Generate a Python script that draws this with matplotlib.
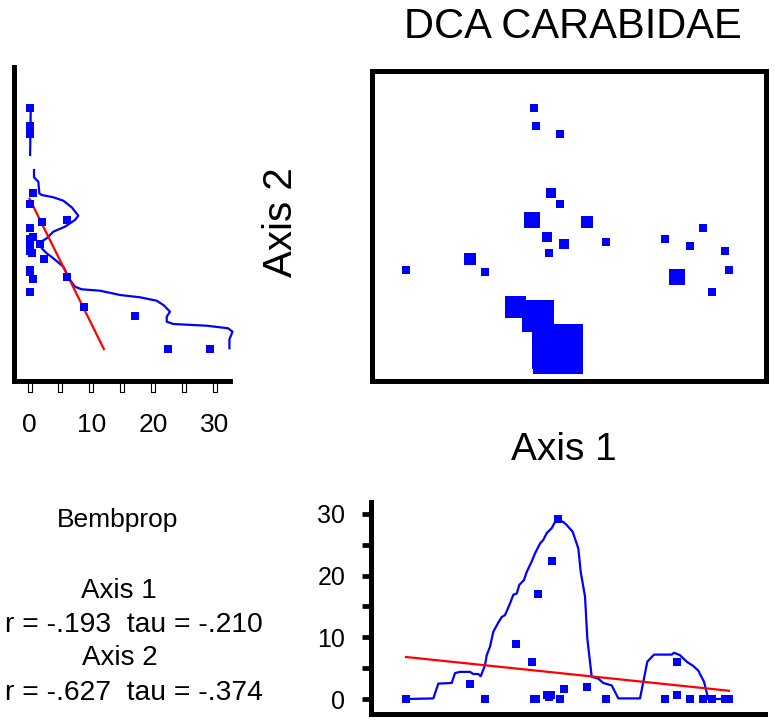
import numpy as np
import matplotlib
matplotlib.use('Agg')
import matplotlib.pyplot as plt
from matplotlib.ticker import FixedLocator

plt.rcParams['font.family'] = ['Liberation Sans', 'DejaVu Sans']

# sample scores on the two DCA axes and the Bembprop value for each sample
axis1 = np.array([35, 99, 114, 145, 161, 163, 165, 167, 176, 178, 180, 181, 187,
                  189, 189, 193, 216, 235, 294, 306, 306, 319, 332, 341, 354, 358])
axis2 = np.array([111, 122, 109, 74, 161, 273, 255, 65, 144, 128, 188, 32, 32,
                  247, 177, 137, 159, 139, 142, 104, 102, 135, 153, 89, 130, 111])
bemb = np.array([0, 2.4, 0, 8.9, 6.0, 0, 0, 17.1, 0.6, 0.4, 0.6, 22.4, 29.2,
                 0, 0, 1.7, 2.0, 0, 0, 6.0, 0.6, 0, 0, 0, 0, 0])

# smoothed trace of Bembprop along axis 1 (bottom panel)
smooth1_x = [35.7, 62.3, 67.3, 80.7, 84, 89, 99, 102.3, 107.3, 109.7, 114, 115.7, 119,
             122.3, 127.3, 130.7, 134, 139, 142.3, 145.7, 148.3, 153, 155.7, 160.7, 164,
             169, 172.3, 175.7, 180.7, 184, 187.3, 192.3, 195.7, 201.7, 207.3, 209.7,
             214, 216.3, 220.7, 227.3, 232.3, 240.7, 247.3, 269, 276.3, 283, 300.7, 303,
             309, 315.7, 322.3, 327.3, 333, 336.7, 336.7, 360.7]
smooth1_y = [0, 0.1, 2.5, 2.6, 4.2, 4.4, 4.4, 4.05, 4.05, 3.7, 5.5, 7.1, 8.5, 10.9,
             12.4, 13.3, 13.6, 15.5, 16.9, 17.1, 18.5, 19.3, 20.6, 22.3, 23.6, 25.2,
             25.8, 26.9, 27.7, 28.7, 29.0, 28.7, 28.2, 27.1, 24.4, 20.6, 16.6, 9.8,
             3.6, 3.3, 2.6, 2.2, 0.1, 0.1, 6.05, 7.2, 7.2, 7.5, 7.1, 6.05, 5.35, 4.6,
             2.8, 0.4, 0, 0]

# smoothed trace of Bembprop along axis 2 (left panel), two pieces
smooth2a_x = [0.2, 0.1]
smooth2a_y = [272.7, 226]
smooth2b_x = [0.73, 0.73, 1.43, 1.59, 1.98, 3.86, 5.48, 6.84, 7.91, 7.37, 5.75, 3.86,
              2.79, 1.9, 1.98, 2.79, 3.86, 5.48, 6.56, 7.37, 8.45, 11.43, 14.67, 17.9,
              20.6, 21.7, 22.77, 22.24, 22.24, 23.3, 28.7, 32.2, 32.9, 32.4, 32.4]
smooth2b_y = [211, 203.7, 199.3, 187.7, 186, 183.7, 180.3, 173.7, 165.3, 161, 154.3,
              149.3, 142.7, 139.3, 132.7, 127.7, 122.7, 114.3, 101, 94.3, 91.7, 90.3,
              86, 83.7, 80.3, 76, 69.3, 64.3, 59.3, 57, 55.3, 52.7, 49.3, 41.7, 32.7]

left_ticks = [0, 5, 10, 15, 20, 25, 30]
left_labels = [0, 10, 20, 30]
bottom_major = [0, 10, 20, 30]
bottom_minor = [5, 15, 25]

stats_text = [('Bembprop', 19, 0.1516, 0.2685, 'center'),
              ('Axis 1', 20, 0.1535, 0.169, 'center'),
              ('r = -.193  tau = -.210', 20.3, 0.3394, 0.1226, 'right'),
              ('Axis 2', 20, 0.1548, 0.0764, 'center'),
              ('r = -.627  tau = -.374', 20.3, 0.3394, 0.0278, 'right')]

blue = '#0000ff'
fig = plt.figure(figsize=(7.75, 7.2), dpi=100)

# main ordination panel
ax = fig.add_axes([0.4806, 0.4711, 0.5075, 0.4306])
side_px = 8.3 + 1.43 * bemb
order = np.argsort(-bemb)
ax.scatter(axis1[order], axis2[order], s=(side_px[order] * 0.72) ** 2,
           marker='s', color=blue, linewidths=0)
ax.set_xlim(1.5, 394.8)
ax.set_ylim(0.2, 310.2)
ax.set_xticks([])
ax.set_yticks([])
for sp in ax.spines.values():
    sp.set_linewidth(3.6)

# left panel: Bembprop vs axis 2
axl = fig.add_axes([0.01832, 0.4711, 0.2785, 0.4363])
axl.plot(smooth2a_x, smooth2a_y, color=blue, lw=1.6, clip_on=False)
axl.plot(smooth2b_x, smooth2b_y, color=blue, lw=1.6, clip_on=False)
b2, a2 = np.polyfit(axis2, bemb, 1)
y_end = min(axis2.max(), -a2 / b2)
yy = np.array([axis2.min(), y_end])
axl.plot(a2 + b2 * yy, yy, color='red', lw=1.6)
axl.plot(bemb, axis2, 's', color=blue, ms=6, mew=0, clip_on=False)
axl.set_xlim(-2.48, 32.5)
axl.set_ylim(0.2, 314.3)
axl.spines[['top', 'right']].set_visible(False)
axl.spines[['left', 'bottom']].set_linewidth(3.6)
axl.set_yticks([])
axl.set_xticks(left_labels)
axl.tick_params(axis='x', length=0, pad=23, labelsize=19)
rect = [(-0.22, -0.5), (0.22, -0.5), (0.22, 0.5), (-0.22, 0.5), (-0.22, -0.5)]
axl.plot(left_ticks, [-0.0213] * len(left_ticks), linestyle='none', marker=rect,
         ms=6.5, mfc='white', mec='black', mew=0.8, clip_on=False,
         transform=axl.get_xaxis_transform())

# bottom panel: Bembprop vs axis 1
axb = fig.add_axes([0.4785, 0.00806, 0.5086, 0.2951])
axb.plot(smooth1_x, smooth1_y, color=blue, lw=1.6, clip_on=False)
b1, a1 = np.polyfit(axis1, bemb, 1)
xx = np.array([axis1.min(), axis1.max()])
axb.plot(xx, a1 + b1 * xx, color='red', lw=1.6)
axb.plot(axis1, bemb, 's', color=blue, ms=6, mew=0, clip_on=False)
axb.set_xlim(-0.2, 394)
axb.set_ylim(-2.46, 31.98)
axb.spines[['top', 'right']].set_visible(False)
axb.spines[['left', 'bottom']].set_linewidth(3.6)
axb.set_xticks([])
axb.set_yticks(bottom_major)
axb.yaxis.set_minor_locator(FixedLocator(bottom_minor))
axb.tick_params(axis='y', which='both', length=6.5, width=3.4, pad=12, labelsize=18)

fig.text(0.7387, 0.9468, 'DCA CARABIDAE', fontsize=30, ha='center', va='baseline')
fig.text(0.3764, 0.6921, 'Axis 2', fontsize=29, rotation=90, rotation_mode='anchor',
         ha='center', va='baseline')
fig.text(0.7277, 0.3611, 'Axis 1', fontsize=28, ha='center', va='baseline')
for txt, size, x, y, ha in stats_text:
    fig.text(x, y, txt, fontsize=size, ha=ha, va='baseline')

fig.savefig('out.png', dpi=100)
